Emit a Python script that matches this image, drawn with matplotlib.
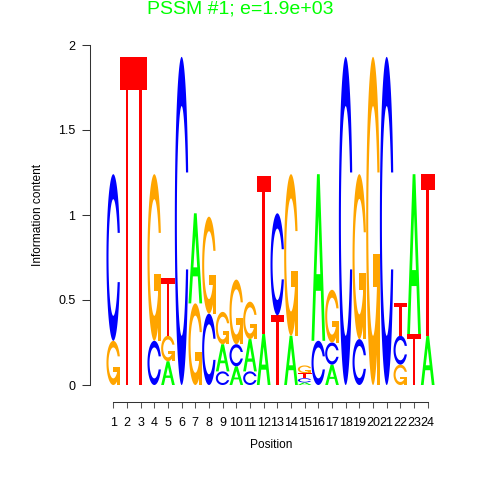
import numpy as np
import matplotlib
matplotlib.use('Agg')
import matplotlib.pyplot as plt
from matplotlib.patches import Polygon

plt.rcParams['font.family'] = ['Liberation Sans', 'DejaVu Sans']

# Information content (bits) of each base at positions 1..24
positions = list(range(1, 25))
bits_A = [0, 0, 0, 0, 0.14, 0, 0.53, 0, 0.16, 0.11, 0.19, 0.30,
          0, 0.29, 0.015, 0.98, 0.12, 0, 0, 0, 0, 0, 0.94, 0.29]
bits_C = [0.98, 0, 0, 0.26, 0, 1.93, 0, 0.42, 0.08, 0.13, 0.08, 0,
          0.60, 0, 0.025, 0.26, 0.13, 1.93, 0.27, 0, 1.93, 0.17, 0, 0]
bits_G = [0.26, 0, 0, 0.98, 0.15, 0, 0.48, 0.57, 0.19, 0.38, 0.22, 0,
          0, 0.95, 0.045, 0, 0.31, 0, 0.97, 1.93, 0, 0.12, 0, 0]
bits_T = [0, 1.93, 1.93, 0, 0.34, 0, 0, 0, 0, 0, 0, 0.93,
          0.41, 0, 0.03, 0, 0, 0, 0, 0, 0, 0.19, 0.30, 0.95]

base_colors = {'A': '#00FF00', 'C': '#0000FF', 'G': '#FFA500', 'T': '#FF0000'}
title = 'PSSM #1; e=1.9e+03'


# letter outlines in a unit box (seqLogo style polygons)
def c_shape():
    a1 = np.linspace(0.3 + np.pi/2, np.pi, 100)
    a2 = np.linspace(np.pi, 1.5*np.pi, 100)
    xl = np.concatenate([0.5 + 0.5*np.sin(a1), 0.5 + 0.5*np.sin(a2)])
    yl = np.concatenate([0.5 + 0.5*np.cos(a1), 0.5 + 0.5*np.cos(a2)])
    x = np.concatenate([xl, xl[::-1]])
    y = np.concatenate([yl, 1 - yl[::-1]])
    ymax = (0.5 + 0.5*np.cos(a1)).max()
    xi1 = 0.5 + 0.35*np.sin(a1)
    yi1 = 0.5 + 0.35*np.cos(a1)
    keep = yi1 <= ymax
    xi1, yi1 = xi1[keep], yi1[keep]
    yi1[0] = ymax
    xi = np.concatenate([xi1, 0.5 + 0.35*np.sin(a2)])
    yi = np.concatenate([yi1, 0.5 + 0.35*np.cos(a2)])
    x1 = np.concatenate([xi, xi[::-1]])
    y1 = np.concatenate([yi, 1 - yi[::-1]])
    x = np.concatenate([x, x1[::-1]])
    y = np.concatenate([y, y1[::-1]])
    return np.column_stack([x, y])


def letter_polys(b):
    if b == 'A':
        outer = np.array([[0, 0], [4, 10], [6, 10], [10, 0], [8, 0], [6.8, 3],
                          [3.2, 3], [2, 0]]) * 0.1
        hole = np.array([[3.6, 4], [5, 7.5], [6.4, 4]]) * 0.1
        return [(outer, base_colors['A']), (hole, 'white')]
    if b == 'T':
        t = np.array([[0, 10], [10, 10], [10, 9], [6, 9], [6, 0], [4, 0],
                      [4, 9], [0, 9]]) * 0.1
        return [(t, base_colors['T'])]
    if b == 'C':
        return [(c_shape(), base_colors['C'])]
    r1 = 0.5 + 0.5*np.sin(0.3 + np.pi/2)
    h1 = 0.4
    add = np.array([[r1, h1], [0.5, h1], [0.5, h1 - 0.1], [r1 - 0.2, h1 - 0.1],
                    [r1 - 0.2, 0], [r1, 0]])
    return [(c_shape(), base_colors['G']), (add, base_colors['G'])]


fig = plt.figure(figsize=(4.8, 4.8), dpi=100)
ax = fig.add_axes([90/480, 78/480, 360/480, 362/480])

width = 1.0
for i, pos in enumerate(positions):
    col = [('A', bits_A[i]), ('C', bits_C[i]), ('G', bits_G[i]), ('T', bits_T[i])]
    col = sorted([c for c in col if c[1] > 0], key=lambda c: c[1])
    y0 = 0.0
    for b, h in col:
        for xy, fc in letter_polys(b):
            pts = np.column_stack([pos - width/2 + width*xy[:, 0], y0 + h*xy[:, 1]])
            ax.add_patch(Polygon(pts, closed=True, fc=fc, lw=0))
        y0 += h

ax.set_xlim(1 - 23.3/13.67, 1 + (450 - 113.3)/13.67)
ax.set_ylim(-0.1, 2 + 5/170)

for s in ['top', 'right']:
    ax.spines[s].set_visible(False)
ax.spines['left'].set_bounds(0, 2)
ax.spines['bottom'].set_bounds(1, 24)
for s in ['left', 'bottom']:
    ax.spines[s].set_linewidth(0.75)
    ax.spines[s].set_color('#333333')

ax.set_yticks([0, 0.5, 1, 1.5, 2])
ax.set_yticklabels(['0', '0.5', '1', '1.5', '2'])
ax.set_xticks(positions)
ax.set_xticklabels([str(p) for p in positions])
ax.tick_params(axis='y', length=5.5, width=0.75, color='#333333', labelsize=9, pad=5)
ax.tick_params(axis='x', length=4.5, width=0.75, color='#555555', labelsize=9, pad=6)

fig.text(271/480, 1 - 445/480, 'Position', ha='center', va='center', fontsize=8.6)
fig.text(38/480, 1 - 215/480, 'Information content', rotation=90,
         ha='center', va='center', fontsize=8.6)
fig.text(240/480, 1 - 9/480, title, ha='center', va='center', fontsize=14, color='#00FF00')

fig.savefig('out.png', dpi=100)
